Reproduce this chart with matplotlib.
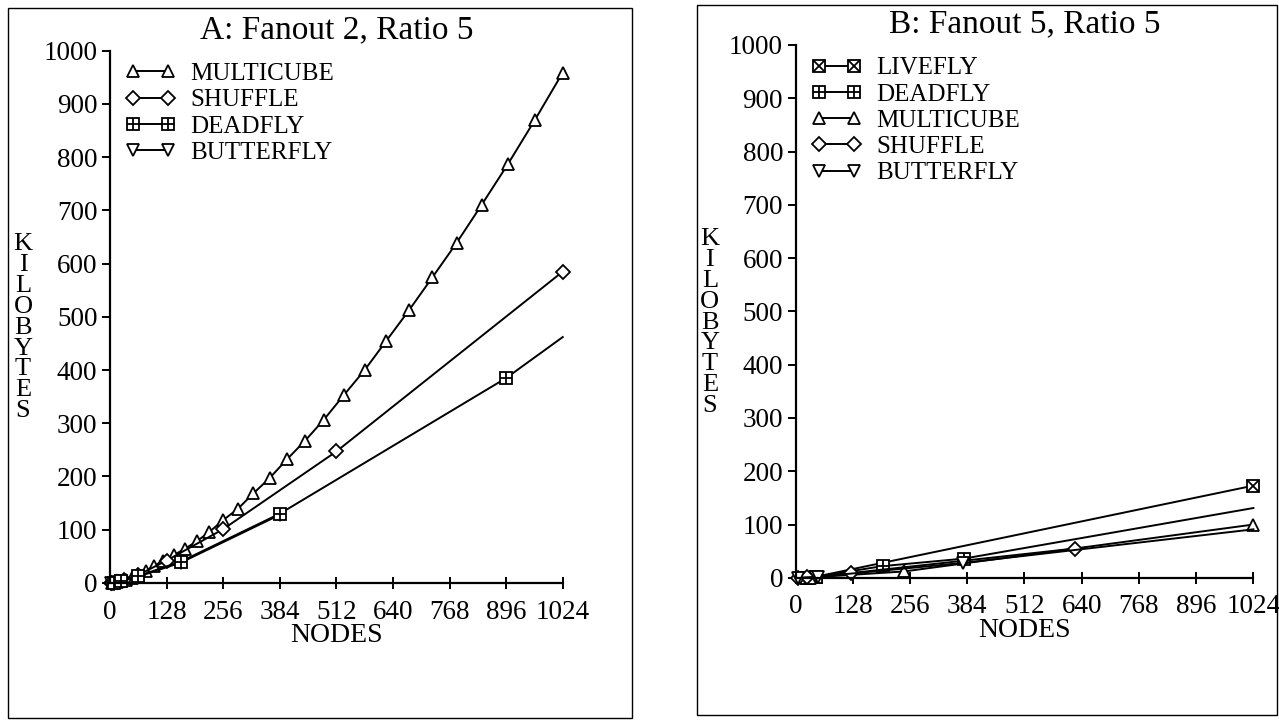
import matplotlib
matplotlib.use("Agg")
import matplotlib.pyplot as plt
from matplotlib.patches import Rectangle
from matplotlib.legend_handler import HandlerTuple

plt.rcParams['font.family'] = ['Liberation Serif', 'DejaVu Serif']

# ---------------- Panel A data ----------------
a_title = "A: Fanout 2, Ratio 5"
a_multicube_x = [4, 9, 16, 25, 36, 49, 64, 81, 100, 121, 144, 169, 196, 225, 256, 289,
                 324, 361, 400, 441, 484, 529, 576, 625, 676, 729, 784, 841, 900, 961, 1024]
a_multicube_y = [0.5, 1, 2, 3, 5, 10, 14, 22, 32, 42, 52, 64, 78, 96, 118, 139,
                 168, 197, 232, 267, 307, 353, 400, 455, 512, 574, 639, 711, 787, 870, 959]
a_shuffle_x = [2, 4, 8, 16, 32, 64, 128, 256, 512, 1024]
a_shuffle_y = [0, 0.2, 0.7, 2, 5, 15, 42, 101, 247, 585]
a_deadfly_x = [8, 24, 64, 160, 384, 896, 1024]
a_deadfly_y = [0.5, 3, 13, 40, 130, 385, 462]
a_butterfly_x = [2, 8, 24, 64, 160, 384]
a_butterfly_y = [0, 0.5, 3, 12, 38, 128]

# ---------------- Panel B data ----------------
b_title = "B: Fanout 5, Ratio 5"
b_livefly_x = [25, 45, 1024]
b_livefly_y = [0.5, 2, 173]
b_deadfly_x = [25, 45, 195, 376, 1024]
b_deadfly_y = [0.5, 2, 22, 36, 131]
b_multicube_x = [32, 243, 1024]
b_multicube_y = [0.5, 12, 100]
b_shuffle_x = [5, 25, 125, 625]
b_shuffle_y = [0.2, 1, 9, 55]
b_butterfly_x = [5, 50, 375, 1024]
b_butterfly_y = [0.2, 2, 28, 91]

x_ticks = [0, 128, 256, 384, 512, 640, 768, 896, 1024]
y_ticks = [0, 100, 200, 300, 400, 500, 600, 700, 800, 900, 1000]

MS = {'^': 9, 'v': 9, 'D': 7, 's': 8}
LW = 1.4
FS_TICK = 19.5
FS_TITLE = 24
FS_LEG = 18

fig = plt.figure(figsize=(12.79, 7.25), dpi=100)
fig.patch.set_facecolor('white')

def mk(ax, x, y, marker, last_marker=True, overlay=None):
    n = len(x)
    me = list(range(n)) if last_marker else list(range(n - 1))
    ms = MS[marker]
    ln, = ax.plot(x, y, color='black', lw=LW, marker=marker, ms=ms, mfc='white',
                  mec='black', mew=1.3, markevery=me, clip_on=False)
    handle = ln
    if overlay is not None:
        ov, = ax.plot(x, y, color='black', lw=0, marker=overlay, ms=ms, mew=1.3,
                      markevery=me, clip_on=False)
        handle = (ln, ov)
    return handle

def style(ax, title):
    ax.set_xlim(0, 1024)
    ax.set_ylim(0, 1000)
    ax.spines['top'].set_visible(False)
    ax.spines['right'].set_visible(False)
    ax.spines['left'].set_linewidth(1.6)
    ax.spines['bottom'].set_linewidth(1.6)
    ax.set_xticks(x_ticks)
    ax.set_yticks(y_ticks)
    ax.tick_params(axis='y', direction='out', length=6, width=1.4, labelsize=FS_TICK, pad=3)
    ax.tick_params(axis='x', direction='inout', length=8, width=1.4, labelsize=FS_TICK, pad=8)
    ax.set_xlabel("NODES", fontsize=20, labelpad=-1)
    ax.set_title(title, fontsize=FS_TITLE, pad=9)
    ax.patch.set_alpha(0)

def legend(ax, handles, labels):
    ax.legend(handles, labels, handler_map={tuple: HandlerTuple(ndivide=1)},
              loc='upper left', bbox_to_anchor=(-0.015, 1.02), frameon=False,
              fontsize=FS_LEG, numpoints=2, handlelength=2.0, labelspacing=0.15,
              handletextpad=0.6)

# Panel A
axA = fig.add_axes([0.086, 0.196, 0.354, 0.734])
hA_m = mk(axA, a_multicube_x, a_multicube_y, '^')
hA_s = mk(axA, a_shuffle_x, a_shuffle_y, 'D')
hA_b = mk(axA, a_butterfly_x, a_butterfly_y, 'v')
hA_d = mk(axA, a_deadfly_x, a_deadfly_y, 's', last_marker=False, overlay='+')
style(axA, a_title)
legend(axA, [hA_m, hA_s, hA_d, hA_b], ["MULTICUBE", "SHUFFLE", "DEADFLY", "BUTTERFLY"])

# Panel B
axB = fig.add_axes([0.622, 0.203, 0.358, 0.735])
hB_l = mk(axB, b_livefly_x, b_livefly_y, 's', overlay='x')
hB_d = mk(axB, b_deadfly_x, b_deadfly_y, 's', last_marker=False, overlay='+')
hB_m = mk(axB, b_multicube_x, b_multicube_y, '^')
hB_s = mk(axB, b_shuffle_x, b_shuffle_y, 'D')
hB_b = mk(axB, b_butterfly_x, b_butterfly_y, 'v', last_marker=False)
style(axB, b_title)
legend(axB, [hB_l, hB_d, hB_m, hB_s, hB_b],
       ["LIVEFLY", "DEADFLY", "MULTICUBE", "SHUFFLE", "BUTTERFLY"])

# vertical KILOBYTES labels
for xf, yf in [(0.018, 0.548), (0.555, 0.555)]:
    fig.text(xf, yf, "\n".join("KILOBYTES"), fontsize=19, ha='center', va='center',
             linespacing=0.93)

# outer frames
fig.add_artist(Rectangle((8/1279, 1 - 718/725), (632-8)/1279, (718-8)/725,
                         transform=fig.transFigure, fill=False, lw=1.0, ec='black'))
fig.add_artist(Rectangle((697/1279, 1 - 715/725), (1277-697)/1279, (715-5)/725,
                         transform=fig.transFigure, fill=False, lw=1.0, ec='black'))

fig.savefig("out.png", dpi=100)
